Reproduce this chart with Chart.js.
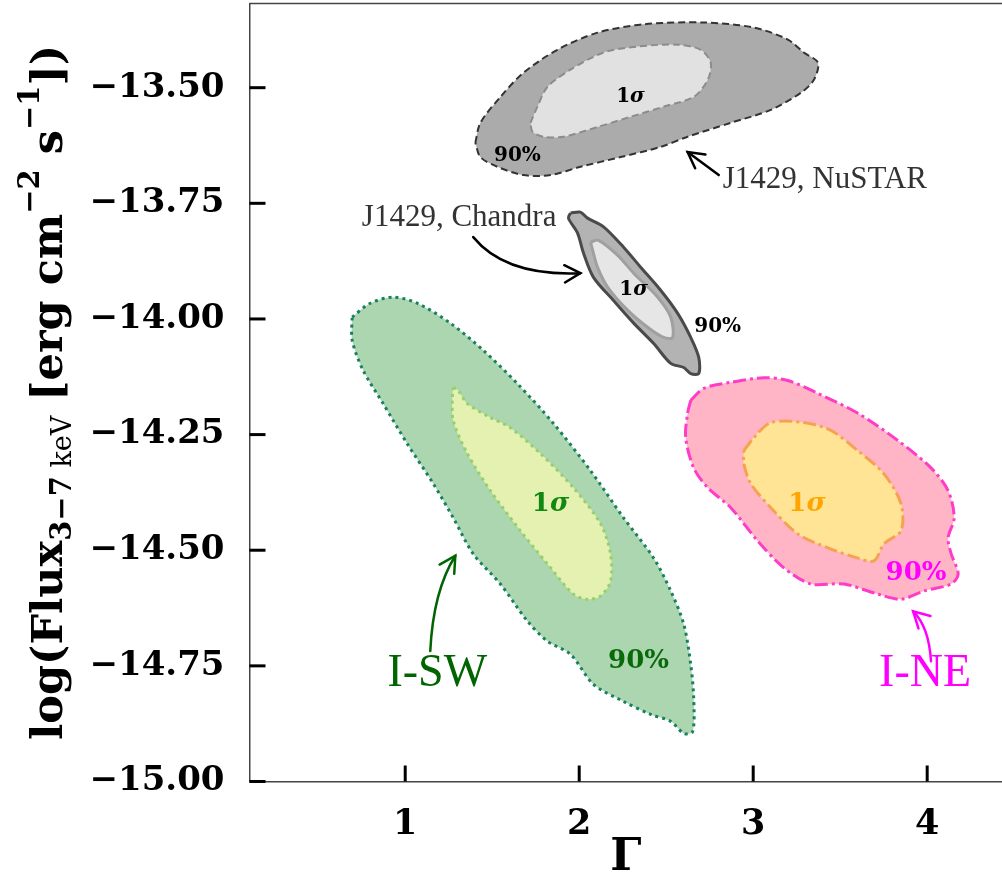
<!DOCTYPE html>
<html>
<head>
<meta charset="utf-8">
<script src="https://cdn.jsdelivr.net/npm/chart.js@4.4.0/dist/chart.umd.min.js"></script>
<style>
  html, body { margin: 0; padding: 0; background: #fff; }
  #wrap { width: 1002px; height: 885px; }
</style>
</head>
<body>
<div id="wrap"><canvas id="contourChart" width="1002" height="885"></canvas></div>
<script>
// axis ticks
const gammaTicks = [1, 2, 3, 4];
const fluxTicks = [-15.0, -14.75, -14.5, -14.25, -14.0, -13.75, -13.5];

// J1429, NuSTAR contours (Gamma, log flux)
const nustar90Gamma = [1.403, 1.432, 1.547, 1.679, 1.875, 2.105, 2.370, 2.716, 3.003, 3.199, 3.291, 3.372, 3.349, 3.274, 3.101, 2.871, 2.623, 2.468, 2.238, 2.007, 1.835, 1.679, 1.530, 1.432];
const nustar90Flux = [-13.619, -13.576, -13.520, -13.468, -13.418, -13.381, -13.363, -13.359, -13.370, -13.396, -13.424, -13.446, -13.483, -13.511, -13.548, -13.576, -13.606, -13.628, -13.650, -13.671, -13.689, -13.689, -13.671, -13.650];
const nustar1sGamma = [1.720, 1.760, 1.818, 1.950, 2.140, 2.336, 2.566, 2.698, 2.756, 2.739, 2.658, 2.485, 2.295, 2.105, 1.910, 1.794, 1.731];
const nustar1sFlux = [-13.576, -13.541, -13.498, -13.461, -13.424, -13.411, -13.407, -13.418, -13.446, -13.483, -13.520, -13.541, -13.563, -13.585, -13.606, -13.606, -13.595];

// J1429, Chandra contours
const chandra90Gamma = [1.950, 2.007, 2.048, 2.140, 2.255, 2.353, 2.468, 2.566, 2.641, 2.687, 2.687, 2.641, 2.601, 2.526, 2.428, 2.313, 2.197, 2.082, 2.025, 1.990, 1.938];
const chandra90Flux = [-13.771, -13.769, -13.782, -13.801, -13.845, -13.888, -13.938, -13.988, -14.040, -14.083, -14.118, -14.118, -14.105, -14.096, -14.053, -14.009, -13.960, -13.910, -13.858, -13.814, -13.782];
const chandra1sGamma = [2.065, 2.111, 2.220, 2.313, 2.451, 2.526, 2.537, 2.485, 2.393, 2.278, 2.163, 2.105, 2.077];
const chandra1sFlux = [-13.834, -13.830, -13.862, -13.901, -13.953, -13.996, -14.040, -14.040, -14.018, -13.981, -13.931, -13.888, -13.851];

// I-SW contours
const sw90Gamma = [0.695, 0.799, 0.931, 1.069, 1.259, 1.449, 1.645, 1.852, 2.065, 2.255, 2.428, 2.526, 2.601, 2.641, 2.658, 2.652, 2.601, 2.526, 2.411, 2.255, 2.082, 1.950, 1.818, 1.702, 1.547, 1.391, 1.276, 1.161, 1.012, 0.873, 0.758, 0.695];
const sw90Flux = [-13.996, -13.966, -13.953, -13.966, -14.009, -14.068, -14.140, -14.226, -14.328, -14.430, -14.517, -14.588, -14.660, -14.747, -14.820, -14.892, -14.896, -14.870, -14.855, -14.827, -14.790, -14.725, -14.697, -14.653, -14.573, -14.508, -14.430, -14.356, -14.270, -14.183, -14.111, -14.046];
const sw1sGamma = [1.276, 1.305, 1.357, 1.489, 1.604, 1.777, 1.967, 2.123, 2.180, 2.180, 2.123, 2.048, 1.967, 1.818, 1.662, 1.489, 1.357, 1.276, 1.271];
const sw1sFlux = [-14.148, -14.155, -14.183, -14.213, -14.235, -14.291, -14.365, -14.443, -14.508, -14.567, -14.599, -14.606, -14.595, -14.530, -14.458, -14.371, -14.291, -14.220, -14.170];

// I-NE contours
const ne90Gamma = [2.641, 2.716, 2.871, 3.061, 3.199, 3.372, 3.602, 3.832, 4.022, 4.120, 4.155, 4.120, 4.138, 4.178, 4.138, 3.982, 3.850, 3.717, 3.522, 3.332, 3.176, 3.026, 2.871, 2.739, 2.658, 2.612, 2.623];
const ne90Flux = [-14.176, -14.150, -14.137, -14.127, -14.133, -14.161, -14.204, -14.263, -14.322, -14.371, -14.430, -14.473, -14.508, -14.551, -14.573, -14.588, -14.606, -14.595, -14.573, -14.573, -14.538, -14.480, -14.408, -14.365, -14.322, -14.257, -14.204];
const ne1sGamma = [2.946, 3.003, 3.101, 3.291, 3.447, 3.602, 3.752, 3.850, 3.850, 3.752, 3.695, 3.602, 3.430, 3.257, 3.101, 2.986, 2.946];
const ne1sFlux = [-14.285, -14.257, -14.224, -14.224, -14.241, -14.285, -14.335, -14.400, -14.458, -14.486, -14.523, -14.517, -14.495, -14.465, -14.408, -14.356, -14.313];

// text labels, placed in data units
const notes = [
  { text: '1σ', g: 2.295, f: -13.520, size: 20, color: '#000' },
  { text: '90%', g: 1.645, f: -13.647, size: 20, color: '#000' },
  { text: '1σ', g: 2.313, f: -13.938, size: 20, color: '#000' },
  { text: '90%', g: 2.796, f: -14.018, size: 20, color: '#000' },
  { text: '1σ', g: 1.835, f: -14.400, size: 26, color: '#118811' },
  { text: '90%', g: 2.341, f: -14.740, size: 26, color: '#0a6a0a' },
  { text: '1σ', g: 3.309, f: -14.400, size: 26, color: '#ffa500' },
  { text: '90%', g: 3.936, f: -14.549, size: 26, color: '#ff00ff' }
];
const names = [
  { text: 'J1429, NuSTAR', g: 2.825, f: -13.699, size: 31, color: '#333', align: 'left' },
  { text: 'J1429, Chandra', g: 1.869, f: -13.782, size: 31, color: '#333', align: 'right' },
  { text: 'I-SW', g: 1.184, f: -14.768, size: 46, color: '#006400', align: 'center' },
  { text: 'I-NE', g: 3.988, f: -14.768, size: 46, color: '#ff00ff', align: 'center' }
];
const arrows = [
  { from: [2.802, -13.689], via: null, to: [2.623, -13.639], color: '#000' },
  { from: [1.391, -13.823], via: [1.576, -13.908], to: [2.007, -13.901], color: '#000' },
  { from: [1.144, -14.718], via: [1.161, -14.588], to: [1.288, -14.512], color: '#006400' },
  { from: [4.022, -14.740], via: [4.010, -14.665], to: [3.919, -14.632], color: '#ff00ff' }
];

function contour(gammas, fluxes, fill, line, dash, width, order) {
  const pts = gammas.map((g, i) => ({ x: g, y: fluxes[i] }));
  pts.push(pts[0]);
  return {
    data: pts, showLine: true, fill: 'shape',
    backgroundColor: fill, borderColor: line, borderDash: dash, borderWidth: width,
    pointRadius: 0, tension: 0.3, order: order
  };
}

const serif = '"DejaVu Serif", serif';
const thinSerif = '"Liberation Serif", "Times New Roman", serif';

const overlay = {
  id: 'overlay',
  afterDatasetsDraw(chart) {
    const { ctx, chartArea: area, scales: { x, y } } = chart;
    ctx.save();

    // top spine and inward ticks
    ctx.strokeStyle = '#444';
    ctx.lineWidth = 1.5;
    ctx.beginPath();
    ctx.moveTo(area.left, area.top);
    ctx.lineTo(area.right, area.top);
    ctx.stroke();
    ctx.strokeStyle = '#000';
    ctx.lineWidth = 3;
    fluxTicks.forEach(v => {
      const py = y.getPixelForValue(v);
      ctx.beginPath();
      ctx.moveTo(area.left, py);
      ctx.lineTo(area.left + 16, py);
      ctx.stroke();
    });
    gammaTicks.forEach(v => {
      const px = x.getPixelForValue(v);
      ctx.beginPath();
      ctx.moveTo(px, area.bottom);
      ctx.lineTo(px, area.bottom - 16);
      ctx.stroke();
    });

    // arrows
    arrows.forEach(a => {
      const p0 = [x.getPixelForValue(a.from[0]), y.getPixelForValue(a.from[1])];
      const p1 = [x.getPixelForValue(a.to[0]), y.getPixelForValue(a.to[1])];
      const c = a.via ? [x.getPixelForValue(a.via[0]), y.getPixelForValue(a.via[1])] : p0;
      ctx.strokeStyle = a.color;
      ctx.lineWidth = 2.5;
      ctx.lineCap = 'round';
      ctx.beginPath();
      ctx.moveTo(p0[0], p0[1]);
      ctx.quadraticCurveTo(c[0], c[1], p1[0], p1[1]);
      ctx.stroke();
      const ang = Math.atan2(p1[1] - c[1], p1[0] - c[0]);
      ctx.beginPath();
      ctx.moveTo(p1[0] - 18 * Math.cos(ang - 0.5), p1[1] - 18 * Math.sin(ang - 0.5));
      ctx.lineTo(p1[0], p1[1]);
      ctx.lineTo(p1[0] - 18 * Math.cos(ang + 0.5), p1[1] - 18 * Math.sin(ang + 0.5));
      ctx.stroke();
    });

    // contour labels
    ctx.textBaseline = 'middle';
    notes.forEach(n => {
      const px = x.getPixelForValue(n.g);
      const py = y.getPixelForValue(n.f);
      ctx.fillStyle = n.color;
      if (n.text === '1σ') {
        const f1 = 'bold ' + n.size + 'px ' + serif;
        const f2 = 'italic bold ' + n.size + 'px ' + serif;
        ctx.font = f1;
        const w1 = ctx.measureText('1').width;
        ctx.font = f2;
        const w2 = ctx.measureText('σ').width;
        ctx.textAlign = 'left';
        ctx.font = f1;
        ctx.fillText('1', px - (w1 + w2) / 2, py);
        ctx.font = f2;
        ctx.fillText('σ', px - (w1 + w2) / 2 + w1, py);
      } else {
        ctx.font = 'bold ' + n.size + 'px ' + serif;
        ctx.textAlign = 'center';
        ctx.fillText(n.text, px, py);
      }
    });
    names.forEach(n => {
      ctx.font = n.size + 'px ' + thinSerif;
      ctx.fillStyle = n.color;
      ctx.textAlign = n.align;
      ctx.fillText(n.text, x.getPixelForValue(n.g), y.getPixelForValue(n.f));
    });

    // y axis title with sub/superscripts
    const runs = [
      { t: 'log(Flux', font: 'bold 43px ' + serif, dy: 0 },
      { t: '3−7', font: 'bold 29px ' + serif, dy: 9 },
      { t: ' keV', font: '27px ' + serif, dy: 9 },
      { t: ' [erg cm', font: 'bold 43px ' + serif, dy: 0 },
      { t: '−2', font: 'bold 29px ' + serif, dy: -23 },
      { t: ' s', font: 'bold 43px ' + serif, dy: 0 },
      { t: '−1', font: 'bold 29px ' + serif, dy: -23 },
      { t: '])', font: 'bold 43px ' + serif, dy: 0 }
    ];
    ctx.translate(62, 740);
    ctx.rotate(-Math.PI / 2);
    ctx.textAlign = 'left';
    ctx.textBaseline = 'alphabetic';
    ctx.fillStyle = '#000';
    let cx = 0;
    runs.forEach(r => {
      ctx.font = r.font;
      ctx.fillText(r.t, cx, r.dy);
      cx += ctx.measureText(r.t).width;
    });
    ctx.restore();
  }
};

const ctx = document.getElementById('contourChart').getContext('2d');
const chart = new Chart(ctx, {
  type: 'scatter',
  data: {
    datasets: [
      contour(nustar90Gamma, nustar90Flux, '#ababab', '#333333', [7, 4], 2, 2),
      contour(nustar1sGamma, nustar1sFlux, '#e1e1e1', '#8c8c8c', [7, 4], 2, 1),
      contour(chandra90Gamma, chandra90Flux, '#b3b3b3', '#4a4a4a', [], 3, 2),
      contour(chandra1sGamma, chandra1sFlux, '#e6e6e6', '#a0a0a0', [], 3, 1),
      contour(sw90Gamma, sw90Flux, '#acd6b0', '#19805f', [3, 4], 3, 2),
      contour(sw1sGamma, sw1sFlux, '#e5f1b1', '#98d068', [3, 4], 3, 1),
      contour(ne90Gamma, ne90Flux, '#ffb5c5', '#ff3cc8', [13, 4, 3, 4], 3, 2),
      contour(ne1sGamma, ne1sFlux, '#ffe495', '#f7a152', [13, 4, 3, 4], 3, 1)
    ]
  },
  options: {
    responsive: false,
    animation: false,
    layout: { padding: { top: 3.5, left: 0, right: 0, bottom: 0 } },
    plugins: { legend: { display: false }, tooltip: { enabled: false } },
    scales: {
      x: {
        type: 'linear', min: 0.105, max: 4.43,
        grid: { display: false },
        border: { display: true, color: '#444', width: 1.5 },
        ticks: {
          color: '#000', padding: 14,
          font: { family: serif, weight: 'bold', size: 35 },
          callback: v => String(v)
        },
        title: {
          display: true, text: 'Γ', color: '#000',
          font: { family: serif, weight: 'bold', size: 44 },
          padding: { top: 0, bottom: 0 }
        },
        afterBuildTicks: s => { s.ticks = gammaTicks.map(v => ({ value: v })); },
        afterFit: s => { s.height = 103.5; s.paddingLeft = 0; s.paddingRight = 0; }
      },
      y: {
        type: 'linear', min: -15, max: -13.318,
        grid: { display: false },
        border: { display: true, color: '#444', width: 1.5 },
        ticks: {
          color: '#000', padding: 17,
          font: { family: serif, weight: 'bold', size: 34 },
          callback: v => '−' + Math.abs(v).toFixed(2)
        },
        afterBuildTicks: s => { s.ticks = fluxTicks.map(v => ({ value: v })); },
        afterFit: s => { s.width = 249.5; s.paddingTop = 0; s.paddingBottom = 0; }
      }
    }
  },
  plugins: [overlay]
});
</script>
</body>
</html>
